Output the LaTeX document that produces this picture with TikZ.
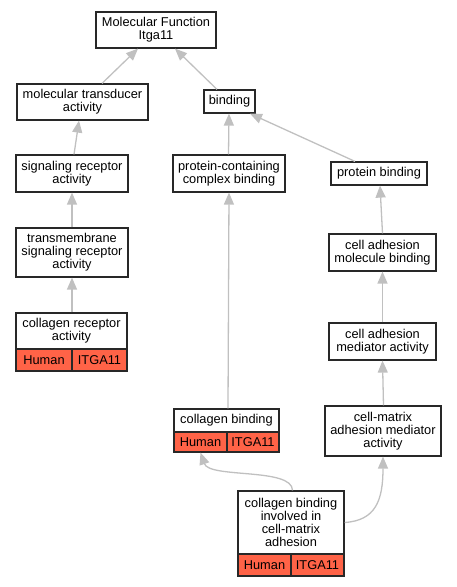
\documentclass[tikz,border=0pt]{standalone}
\usepackage{fontspec}
\setmainfont{Liberation Sans}
\usetikzlibrary{arrows.meta}
\definecolor{tomato}{RGB}{255,99,71}
\definecolor{edgegray}{RGB}{192,192,192}
\definecolor{bordergray}{RGB}{40,40,40}
\tikzset{
  box/.style={draw=bordergray, line width=1.2pt, fill=white, inner sep=0pt, align=center, font=\fontsize{12.8}{13}\selectfont},
  cell/.style={box, fill=tomato},
  edge/.style={draw=edgegray, line width=1.3pt, -{Triangle[length=12pt,width=10pt]}},
}
\begin{document}
\begin{tikzpicture}[x=1pt,y=-1pt]
\useasboundingbox (0,0) rectangle (456,587);
% nodes
\node[box, minimum width=120pt, minimum height=36pt] (mf) at (156,30) {Molecular Function\\Itga11};
\node[box, minimum width=131pt, minimum height=36pt] (mt) at (82.5,102) {molecular transducer\\activity};
\node[box, minimum width=51pt, minimum height=23pt] (bind) at (229.5,101.5) {binding};
\node[box, minimum width=112pt, minimum height=37pt] (sra) at (72,173.5) {signaling receptor\\activity};
\node[box, minimum width=112pt, minimum height=37pt] (pccb) at (229,173.5) {protein-containing\\complex binding};
\node[box, minimum width=96pt, minimum height=23pt] (pb) at (379,173.5) {protein binding};
\node[box, minimum width=112pt, minimum height=49pt] (tm) at (72,252.5) {transmembrane\\signaling receptor\\activity};
\node[box, minimum width=111pt, minimum height=36pt] (cra) at (71.5,331) {collagen receptor\\activity};
\node[cell, minimum width=56pt, minimum height=22pt] (crah) at (44,360) {Human};
\node[cell, minimum width=55pt, minimum height=22pt] (crai) at (99.5,360) {ITGA11};
\node[box, minimum width=107pt, minimum height=37pt] (camb) at (382.5,252.5) {cell adhesion\\molecule binding};
\node[box, minimum width=107pt, minimum height=37pt] (cama) at (382.5,341.5) {cell adhesion\\mediator activity};
\node[box, minimum width=105pt, minimum height=23pt] (cb) at (226.5,420.5) {collagen binding};
\node[cell, minimum width=53pt, minimum height=20pt] (cbh) at (200.5,442) {Human};
\node[cell, minimum width=52pt, minimum height=20pt] (cbi11) at (253,442) {ITGA11};
\node[box, minimum width=116pt, minimum height=50pt] (cmam) at (383,431) {cell-matrix\\adhesion mediator\\activity};
\node[box, minimum width=106pt, minimum height=63pt] (cbi) at (291,522.5) {collagen binding\\involved in\\cell-matrix\\adhesion};
\node[cell, minimum width=53pt, minimum height=22pt] (cbih) at (264.5,565) {Human};
\node[cell, minimum width=53pt, minimum height=22pt] (cbii) at (317.5,565) {ITGA11};
% edges
\draw[edge] ([xshift=19.5pt]mt.north) -- ([xshift=-18pt]mf.south);
\draw[edge] ([xshift=-12.5pt]bind.north) -- ([xshift=19pt]mf.south);
\draw[edge] ([xshift=2pt]sra.north) -- ([xshift=-3.5pt]mt.south);
\draw[edge] ([xshift=-0.5pt]pccb.north) -- ([xshift=-0.5pt]bind.south);
\draw[edge] ([xshift=-24pt]pb.north) -- ([xshift=20.5pt]bind.south);
\draw[edge] (tm.north) -- (sra.south);
\draw[edge] ([xshift=0.5pt]cra.north) -- (tm.south);
\draw[edge] (camb.north) -- ([xshift=1pt]pb.south);
\draw[edge] (cama.north) -- (camb.south);
\draw[edge] ([xshift=0.5pt]cmam.north) -- (cama.south);
\draw[edge] ([xshift=1.5pt]cb.north) -- (pccb.south);
\draw[edge] ([xshift=1.5pt]cbi.north) .. controls +(0,-23) and +(9,26) .. (cbh.south);
\draw[edge] (cbi.east) .. controls +(31,-2) and +(0,44) .. (cmam.south);
\end{tikzpicture}
\end{document}
